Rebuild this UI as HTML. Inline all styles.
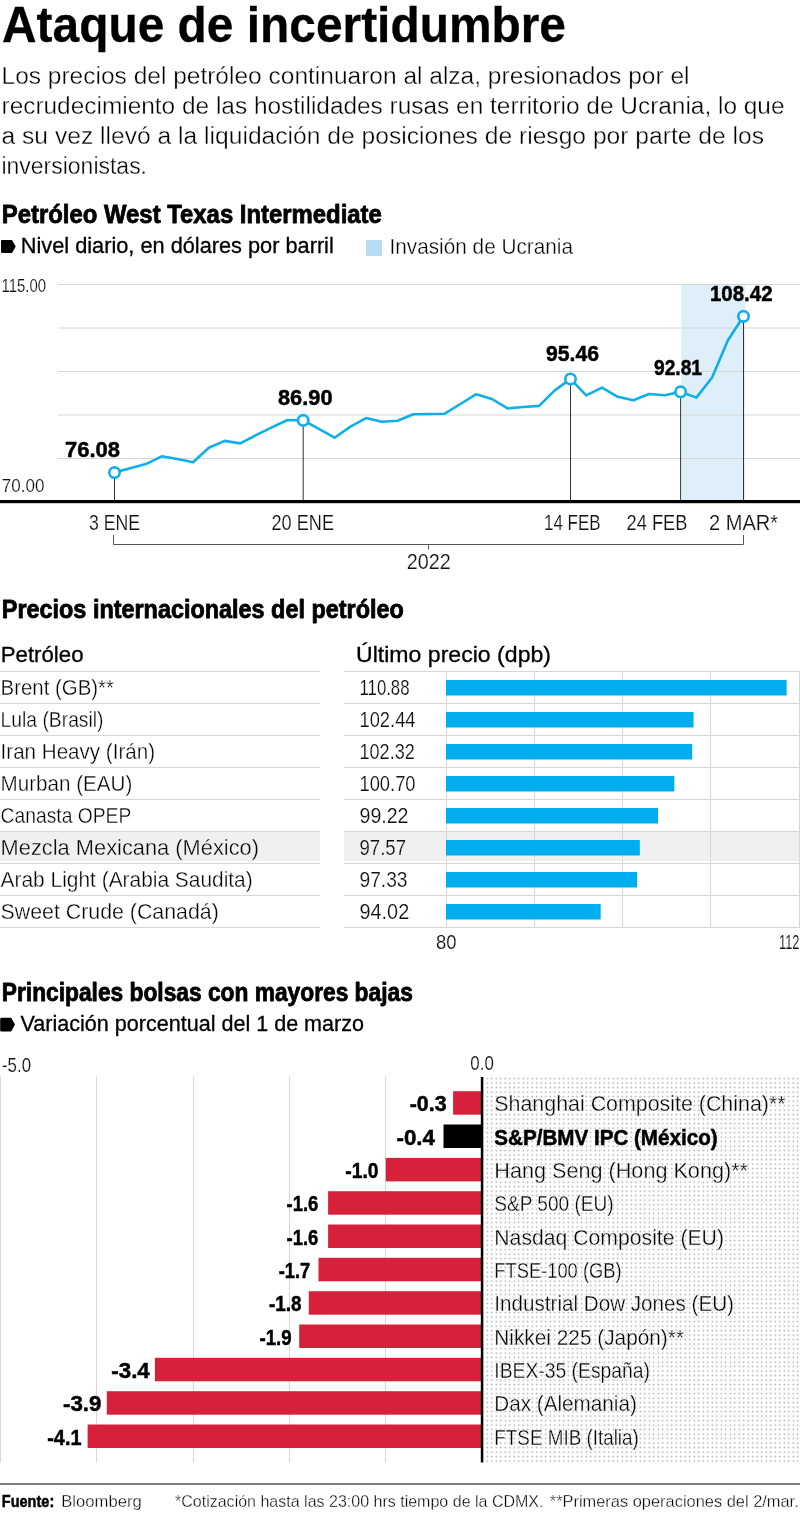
<!DOCTYPE html>
<html lang="es"><head><meta charset="utf-8"><title>Ataque de incertidumbre</title>
<style>
html,body{margin:0;padding:0;background:#fff}
body{width:800px;height:1513px;overflow:hidden}
svg{display:block;font-family:"Liberation Sans", sans-serif;}
text{white-space:pre}
</style></head><body>
<svg width="800" height="1513" viewBox="0 0 800 1513" role="img" aria-label="Ataque de incertidumbre">
<text x="2" y="42" font-size="49.5" font-weight="700" textLength="564" lengthAdjust="spacingAndGlyphs" stroke="#000" stroke-width="0.3" fill="#000">Ataque de incertidumbre</text>
<text x="1.5" y="84" font-size="23.5" textLength="688.0" lengthAdjust="spacingAndGlyphs" stroke="#fff" stroke-width="0.35" fill="#000">Los precios del petróleo continuaron al alza, presionados por el</text>
<text x="1.5" y="114" font-size="23.5" textLength="783.0" lengthAdjust="spacingAndGlyphs" stroke="#fff" stroke-width="0.35" fill="#000">recrudecimiento de las hostilidades rusas en territorio de Ucrania, lo que</text>
<text x="1.5" y="144" font-size="23.5" textLength="762.5" lengthAdjust="spacingAndGlyphs" stroke="#fff" stroke-width="0.35" fill="#000">a su vez llevó a la liquidación de posiciones de riesgo por parte de los</text>
<text x="1.5" y="174" font-size="23.5" textLength="145.5" lengthAdjust="spacingAndGlyphs" stroke="#fff" stroke-width="0.35" fill="#000">inversionistas.</text>
<text x="1.8" y="222.6" font-size="25" font-weight="700" textLength="380" lengthAdjust="spacingAndGlyphs" stroke="#000" stroke-width="0.8" stroke-linejoin="round" fill="#000">Petróleo West Texas Intermediate</text>
<path d="M2.2,240 H12 L15.75,246.5 L12,253 H2.2 Q1,253 1,251.8 V241.2 Q1,240 2.2,240 Z" fill="#000"/>
<text x="20.8" y="253" font-size="21.5" textLength="313" lengthAdjust="spacingAndGlyphs" stroke="#000" stroke-width="0.3" fill="#000">Nivel diario, en dólares por barril</text>
<rect x="366" y="240" width="16" height="16" fill="#b5dcf5"/>
<text x="389.5" y="254.2" font-size="21.5" textLength="183.5" lengthAdjust="spacingAndGlyphs" stroke="#fff" stroke-width="0.35" fill="#000">Invasión de Ucrania</text>
<rect x="681.3" y="284" width="63.8" height="217" fill="#dfeffa"/>
<line x1="58" y1="284.5" x2="800" y2="284.5" stroke="#d6d6d6" stroke-width="1"/>
<line x1="58" y1="328" x2="800" y2="328" stroke="#d6d6d6" stroke-width="1"/>
<line x1="58" y1="371.5" x2="800" y2="371.5" stroke="#d6d6d6" stroke-width="1"/>
<line x1="58" y1="415" x2="800" y2="415" stroke="#d6d6d6" stroke-width="1"/>
<line x1="58" y1="458.5" x2="800" y2="458.5" stroke="#d6d6d6" stroke-width="1"/>
<line x1="114.5" y1="472.61333333333334" x2="114.5" y2="501" stroke="#333" stroke-width="1"/>
<line x1="303.2" y1="420.3166666666666" x2="303.2" y2="501" stroke="#333" stroke-width="1"/>
<line x1="570.525" y1="378.9433333333334" x2="570.525" y2="501" stroke="#333" stroke-width="1"/>
<line x1="680.6" y1="391.75166666666667" x2="680.6" y2="501" stroke="#333" stroke-width="1"/>
<line x1="743.5" y1="316.30333333333334" x2="743.5" y2="501" stroke="#333" stroke-width="1"/>
<rect x="0" y="500" width="800" height="3.2" fill="#000"/>
<polyline points="114.5,472.6 130.2,468.2 145.9,464.1 161.7,456.3 177.4,459.0 193.1,462.2 208.8,447.8 224.6,440.9 240.3,443.4 256.0,435.2 271.8,427.4 287.5,420.0 303.2,420.3 318.9,428.8 334.6,437.7 350.4,426.6 366.1,418.1 381.8,421.7 397.6,420.7 413.3,414.3 429.0,414.0 444.7,413.7 460.4,404.0 476.2,394.2 491.9,399.0 507.6,408.4 523.4,407.0 539.1,405.9 554.8,390.4 570.5,378.9 586.2,395.3 602.0,387.6 617.7,396.8 633.4,400.2 649.1,394.0 664.9,395.2 680.6,391.8 696.3,397.6 712.0,377.7 727.8,340.5 743.5,316.3" fill="none" stroke="#10aeea" stroke-width="2.6" stroke-linejoin="round" stroke-linecap="round"/>
<circle cx="114.5" cy="472.6" r="5.2" fill="#fff" stroke="#10aeea" stroke-width="2.6"/>
<text x="65" y="456.6" font-size="22.5" font-weight="700" textLength="55" lengthAdjust="spacingAndGlyphs" stroke="#000" stroke-width="0.5" fill="#000">76.08</text>
<text x="89" y="529.5" font-size="22.5" textLength="51" lengthAdjust="spacingAndGlyphs" stroke="#fff" stroke-width="0.18" fill="#111">3 ENE</text>
<circle cx="303.2" cy="420.3" r="5.2" fill="#fff" stroke="#10aeea" stroke-width="2.6"/>
<text x="278" y="404.6" font-size="22.5" font-weight="700" textLength="54.5" lengthAdjust="spacingAndGlyphs" stroke="#000" stroke-width="0.5" fill="#000">86.90</text>
<text x="271.5" y="529.5" font-size="22.5" textLength="62.5" lengthAdjust="spacingAndGlyphs" stroke="#fff" stroke-width="0.18" fill="#111">20 ENE</text>
<circle cx="570.5" cy="378.9" r="5.2" fill="#fff" stroke="#10aeea" stroke-width="2.6"/>
<text x="546" y="361.1" font-size="22.5" font-weight="700" textLength="53" lengthAdjust="spacingAndGlyphs" stroke="#000" stroke-width="0.5" fill="#000">95.46</text>
<text x="544" y="529.5" font-size="22.5" textLength="56.5" lengthAdjust="spacingAndGlyphs" stroke="#fff" stroke-width="0.18" fill="#111">14 FEB</text>
<circle cx="680.6" cy="391.8" r="5.2" fill="#fff" stroke="#10aeea" stroke-width="2.6"/>
<text x="654" y="374.6" font-size="22.5" font-weight="700" textLength="48" lengthAdjust="spacingAndGlyphs" stroke="#000" stroke-width="0.5" fill="#000">92.81</text>
<text x="626.5" y="529.5" font-size="22.5" textLength="61.0" lengthAdjust="spacingAndGlyphs" stroke="#fff" stroke-width="0.18" fill="#111">24 FEB</text>
<circle cx="743.5" cy="316.3" r="5.2" fill="#fff" stroke="#10aeea" stroke-width="2.6"/>
<text x="710" y="301.1" font-size="22.5" font-weight="700" textLength="62.5" lengthAdjust="spacingAndGlyphs" stroke="#000" stroke-width="0.5" fill="#000">108.42</text>
<text x="709" y="529.5" font-size="22.5" textLength="69" lengthAdjust="spacingAndGlyphs" stroke="#fff" stroke-width="0.18" fill="#111">2 MAR*</text>
<text x="1.5" y="292" font-size="19" textLength="44.5" lengthAdjust="spacingAndGlyphs" stroke="#fff" stroke-width="0.18" fill="#111">115.00</text>
<text x="1.8" y="492.4" font-size="19" textLength="42.6" lengthAdjust="spacingAndGlyphs" stroke="#fff" stroke-width="0.18" fill="#111">70.00</text>
<path d="M113.5,535 V544.5 H743.5 V535 M428.5,544.5 V549.5" fill="none" stroke="#555" stroke-width="1"/>
<text x="406.8" y="569.3" font-size="22.2" textLength="44" lengthAdjust="spacingAndGlyphs" stroke="#fff" stroke-width="0.18" fill="#111">2022</text>
<text x="1.8" y="617.6" font-size="25" font-weight="700" textLength="402" lengthAdjust="spacingAndGlyphs" stroke="#000" stroke-width="0.8" stroke-linejoin="round" fill="#000">Precios internacionales del petróleo</text>
<text x="0.8" y="662.3" font-size="22" textLength="82.7" lengthAdjust="spacingAndGlyphs" stroke="#000" stroke-width="0.3" fill="#000">Petróleo</text>
<text x="356" y="662.3" font-size="22" textLength="195" lengthAdjust="spacingAndGlyphs" stroke="#000" stroke-width="0.3" fill="#000">Último precio (dpb)</text>
<rect x="0" y="832" width="320" height="29" fill="#f0f0f0"/>
<rect x="344" y="832" width="456" height="29" fill="#f0f0f0"/>
<line x1="446.5" y1="671" x2="446.5" y2="927" stroke="#d6d6d6" stroke-width="1"/>
<line x1="534.5" y1="671" x2="534.5" y2="927" stroke="#d6d6d6" stroke-width="1"/>
<line x1="622.5" y1="671" x2="622.5" y2="927" stroke="#d6d6d6" stroke-width="1"/>
<line x1="710.5" y1="671" x2="710.5" y2="927" stroke="#d6d6d6" stroke-width="1"/>
<line x1="799.5" y1="671" x2="799.5" y2="927" stroke="#d6d6d6" stroke-width="1"/>
<line x1="0" y1="671.5" x2="320" y2="671.5" stroke="#d6d6d6" stroke-width="1"/>
<line x1="344" y1="671.5" x2="800" y2="671.5" stroke="#d6d6d6" stroke-width="1"/>
<line x1="0" y1="703.5" x2="320" y2="703.5" stroke="#d6d6d6" stroke-width="1"/>
<line x1="344" y1="703.5" x2="800" y2="703.5" stroke="#d6d6d6" stroke-width="1"/>
<line x1="0" y1="735.5" x2="320" y2="735.5" stroke="#d6d6d6" stroke-width="1"/>
<line x1="344" y1="735.5" x2="800" y2="735.5" stroke="#d6d6d6" stroke-width="1"/>
<line x1="0" y1="767.5" x2="320" y2="767.5" stroke="#d6d6d6" stroke-width="1"/>
<line x1="344" y1="767.5" x2="800" y2="767.5" stroke="#d6d6d6" stroke-width="1"/>
<line x1="0" y1="799.5" x2="320" y2="799.5" stroke="#d6d6d6" stroke-width="1"/>
<line x1="344" y1="799.5" x2="800" y2="799.5" stroke="#d6d6d6" stroke-width="1"/>
<line x1="0" y1="831.5" x2="320" y2="831.5" stroke="#d6d6d6" stroke-width="1"/>
<line x1="344" y1="831.5" x2="800" y2="831.5" stroke="#d6d6d6" stroke-width="1"/>
<line x1="0" y1="863.5" x2="320" y2="863.5" stroke="#d6d6d6" stroke-width="1"/>
<line x1="344" y1="863.5" x2="800" y2="863.5" stroke="#d6d6d6" stroke-width="1"/>
<line x1="0" y1="895.5" x2="320" y2="895.5" stroke="#d6d6d6" stroke-width="1"/>
<line x1="344" y1="895.5" x2="800" y2="895.5" stroke="#d6d6d6" stroke-width="1"/>
<line x1="0" y1="927.5" x2="320" y2="927.5" stroke="#d6d6d6" stroke-width="1"/>
<line x1="344" y1="927.5" x2="800" y2="927.5" stroke="#d6d6d6" stroke-width="1"/>
<text x="0.6" y="694.5" font-size="22" textLength="113.4" lengthAdjust="spacingAndGlyphs" stroke="#fff" stroke-width="0.35" fill="#000">Brent (GB)**</text>
<text x="359.5" y="695.3" font-size="22" textLength="50" lengthAdjust="spacingAndGlyphs" stroke="#fff" stroke-width="0.18" fill="#111">110.88</text>
<rect x="446" y="680" width="340.6449999999999" height="15.5" fill="#00adef"/>
<text x="0.6" y="726.5" font-size="22" textLength="102.9" lengthAdjust="spacingAndGlyphs" stroke="#fff" stroke-width="0.35" fill="#000">Lula (Brasil)</text>
<text x="359.5" y="727.3" font-size="22" textLength="56" lengthAdjust="spacingAndGlyphs" stroke="#fff" stroke-width="0.18" fill="#111">102.44</text>
<rect x="446" y="712" width="247.54124999999996" height="15.5" fill="#00adef"/>
<text x="0.6" y="758.5" font-size="22" textLength="154.4" lengthAdjust="spacingAndGlyphs" stroke="#fff" stroke-width="0.35" fill="#000">Iran Heavy (Irán)</text>
<text x="359.5" y="759.3" font-size="22" textLength="55.3" lengthAdjust="spacingAndGlyphs" stroke="#fff" stroke-width="0.18" fill="#111">102.32</text>
<rect x="446" y="744" width="246.21749999999992" height="15.5" fill="#00adef"/>
<text x="0.6" y="790.5" font-size="22" textLength="131.70000000000002" lengthAdjust="spacingAndGlyphs" stroke="#fff" stroke-width="0.35" fill="#000">Murban (EAU)</text>
<text x="359.5" y="791.3" font-size="22" textLength="56" lengthAdjust="spacingAndGlyphs" stroke="#fff" stroke-width="0.18" fill="#111">100.70</text>
<rect x="446" y="776" width="228.34687500000004" height="15.5" fill="#00adef"/>
<text x="0.6" y="822.5" font-size="22" textLength="130.70000000000002" lengthAdjust="spacingAndGlyphs" stroke="#fff" stroke-width="0.35" fill="#000">Canasta OPEP</text>
<text x="359.5" y="823.3" font-size="22" textLength="49" lengthAdjust="spacingAndGlyphs" stroke="#fff" stroke-width="0.18" fill="#111">99.22</text>
<rect x="446" y="808" width="212.020625" height="15.5" fill="#00adef"/>
<text x="0.6" y="854.5" font-size="22" textLength="258.4" lengthAdjust="spacingAndGlyphs" stroke="#f0f0f0" stroke-width="0.35" fill="#000">Mezcla Mexicana (México)</text>
<text x="359.5" y="855.3" font-size="22" textLength="46.5" lengthAdjust="spacingAndGlyphs" stroke="#f0f0f0" stroke-width="0.18" fill="#111">97.57</text>
<rect x="446" y="840" width="193.81906249999992" height="15.5" fill="#00adef"/>
<text x="0.6" y="886.5" font-size="22" textLength="252.1" lengthAdjust="spacingAndGlyphs" stroke="#fff" stroke-width="0.35" fill="#000">Arab Light (Arabia Saudita)</text>
<text x="359.5" y="887.3" font-size="22" textLength="48" lengthAdjust="spacingAndGlyphs" stroke="#fff" stroke-width="0.18" fill="#111">97.33</text>
<rect x="446" y="872" width="191.1715625" height="15.5" fill="#00adef"/>
<text x="0.6" y="918.5" font-size="22" textLength="218.15" lengthAdjust="spacingAndGlyphs" stroke="#fff" stroke-width="0.35" fill="#000">Sweet Crude (Canadá)</text>
<text x="359.5" y="919.3" font-size="22" textLength="49.7" lengthAdjust="spacingAndGlyphs" stroke="#fff" stroke-width="0.18" fill="#111">94.02</text>
<rect x="446" y="904" width="154.65812499999996" height="15.5" fill="#00adef"/>
<text x="436" y="949" font-size="21" textLength="20.5" lengthAdjust="spacingAndGlyphs" stroke="#fff" stroke-width="0.18" fill="#111">80</text>
<text x="779" y="949" font-size="21" textLength="20.5" lengthAdjust="spacingAndGlyphs" stroke="#fff" stroke-width="0.18" fill="#111">112</text>
<text x="1.8" y="1001" font-size="25" font-weight="700" textLength="411" lengthAdjust="spacingAndGlyphs" stroke="#000" stroke-width="0.8" stroke-linejoin="round" fill="#000">Principales bolsas con mayores bajas</text>
<path d="M1.4,1017.8 H11.2 L14.95,1024.6 L11.2,1031.3999999999999 H1.4 Q0.2,1031.3999999999999 0.2,1030.1999999999998 V1019.0 Q0.2,1017.8 1.4,1017.8 Z" fill="#000"/>
<text x="20.5" y="1031.4" font-size="21.5" textLength="343.5" lengthAdjust="spacingAndGlyphs" stroke="#000" stroke-width="0.3" fill="#000">Variación porcentual del 1 de marzo</text>
<text x="2" y="1071.5" font-size="19.3" textLength="29" lengthAdjust="spacingAndGlyphs" stroke="#fff" stroke-width="0.18" fill="#111">-5.0</text>
<text x="470.3" y="1070.2" font-size="19.3" textLength="23.5" lengthAdjust="spacingAndGlyphs" stroke="#fff" stroke-width="0.18" fill="#111">0.0</text>
<defs><pattern id="dots" x="485" y="1076.35" width="4.5" height="4.5" patternUnits="userSpaceOnUse"><circle cx="2.25" cy="2.25" r="0.8" fill="#a8a8a8"/></pattern></defs>
<rect x="483" y="1077" width="317" height="385.5" fill="url(#dots)"/>
<line x1="0.5" y1="1076.5" x2="0.5" y2="1462.5" stroke="#d6d6d6" stroke-width="1"/>
<line x1="96.5" y1="1076.5" x2="96.5" y2="1462.5" stroke="#d6d6d6" stroke-width="1"/>
<line x1="193.5" y1="1076.5" x2="193.5" y2="1462.5" stroke="#d6d6d6" stroke-width="1"/>
<line x1="289.5" y1="1076.5" x2="289.5" y2="1462.5" stroke="#d6d6d6" stroke-width="1"/>
<line x1="385.5" y1="1076.5" x2="385.5" y2="1462.5" stroke="#d6d6d6" stroke-width="1"/>
<rect x="453.1" y="1091.2" width="28.9" height="23.5" fill="#d7213a"/>
<text x="409.75" y="1111.4" font-size="22.5" font-weight="700" textLength="36.8" lengthAdjust="spacingAndGlyphs" stroke="#000" stroke-width="0.5" fill="#000">-0.3</text>
<text x="494.3" y="1111.4" font-size="22" textLength="291.3" lengthAdjust="spacingAndGlyphs" stroke="#f8f8f8" stroke-width="0.35" fill="#000">Shanghai Composite (China)**</text>
<rect x="443.5" y="1124.5" width="38.5" height="23.5" fill="#000"/>
<text x="396.5" y="1144.7" font-size="22.5" font-weight="700" textLength="38.5" lengthAdjust="spacingAndGlyphs" stroke="#000" stroke-width="0.5" fill="#000">-0.4</text>
<text x="494.3" y="1144.7" font-size="22" font-weight="700" textLength="223.3" lengthAdjust="spacingAndGlyphs" stroke="#000" stroke-width="0.5" fill="#000">S&amp;P/BMV IPC (México)</text>
<rect x="385.8" y="1157.9" width="96.2" height="23.5" fill="#d7213a"/>
<text x="345.25" y="1178.1" font-size="22.5" font-weight="700" textLength="33.2" lengthAdjust="spacingAndGlyphs" stroke="#000" stroke-width="0.5" fill="#000">-1.0</text>
<text x="494.3" y="1178.1" font-size="22" textLength="253.70000000000002" lengthAdjust="spacingAndGlyphs" stroke="#f8f8f8" stroke-width="0.35" fill="#000">Hang Seng (Hong Kong)**</text>
<rect x="328.1" y="1191.2" width="153.9" height="23.5" fill="#d7213a"/>
<text x="286.5" y="1211.4" font-size="22.5" font-weight="700" textLength="31.8" lengthAdjust="spacingAndGlyphs" stroke="#000" stroke-width="0.5" fill="#000">-1.6</text>
<text x="494.3" y="1211.4" font-size="22" textLength="119.3" lengthAdjust="spacingAndGlyphs" stroke="#f8f8f8" stroke-width="0.35" fill="#000">S&amp;P 500 (EU)</text>
<rect x="328.1" y="1224.5" width="153.9" height="23.5" fill="#d7213a"/>
<text x="286.5" y="1244.7" font-size="22.5" font-weight="700" textLength="31.8" lengthAdjust="spacingAndGlyphs" stroke="#000" stroke-width="0.5" fill="#000">-1.6</text>
<text x="494.3" y="1244.7" font-size="22" textLength="229.70000000000002" lengthAdjust="spacingAndGlyphs" stroke="#f8f8f8" stroke-width="0.35" fill="#000">Nasdaq Composite (EU)</text>
<rect x="318.5" y="1257.8" width="163.5" height="23.5" fill="#d7213a"/>
<text x="278.75" y="1278.0" font-size="22.5" font-weight="700" textLength="31.5" lengthAdjust="spacingAndGlyphs" stroke="#000" stroke-width="0.5" fill="#000">-1.7</text>
<text x="494.3" y="1278.0" font-size="22" textLength="127.3" lengthAdjust="spacingAndGlyphs" stroke="#f8f8f8" stroke-width="0.35" fill="#000">FTSE-100 (GB)</text>
<rect x="308.8" y="1291.2" width="173.2" height="23.5" fill="#d7213a"/>
<text x="269" y="1311.4" font-size="22.5" font-weight="700" textLength="32.5" lengthAdjust="spacingAndGlyphs" stroke="#000" stroke-width="0.5" fill="#000">-1.8</text>
<text x="494.3" y="1311.4" font-size="22" textLength="239.70000000000002" lengthAdjust="spacingAndGlyphs" stroke="#f8f8f8" stroke-width="0.35" fill="#000">Industrial Dow Jones (EU)</text>
<rect x="299.2" y="1324.5" width="182.8" height="23.5" fill="#d7213a"/>
<text x="259.5" y="1344.7" font-size="22.5" font-weight="700" textLength="32.2" lengthAdjust="spacingAndGlyphs" stroke="#000" stroke-width="0.5" fill="#000">-1.9</text>
<text x="494.3" y="1344.7" font-size="22" textLength="189.70000000000002" lengthAdjust="spacingAndGlyphs" stroke="#f8f8f8" stroke-width="0.35" fill="#000">Nikkei 225 (Japón)**</text>
<rect x="154.9" y="1357.8" width="327.1" height="23.5" fill="#d7213a"/>
<text x="111.3" y="1378.0" font-size="22.5" font-weight="700" textLength="38.5" lengthAdjust="spacingAndGlyphs" stroke="#000" stroke-width="0.5" fill="#000">-3.4</text>
<text x="494.3" y="1378.0" font-size="22" textLength="155.70000000000002" lengthAdjust="spacingAndGlyphs" stroke="#f8f8f8" stroke-width="0.35" fill="#000">IBEX-35 (España)</text>
<rect x="106.8" y="1391.2" width="375.2" height="23.5" fill="#d7213a"/>
<text x="63" y="1411.4" font-size="22.5" font-weight="700" textLength="38.5" lengthAdjust="spacingAndGlyphs" stroke="#000" stroke-width="0.5" fill="#000">-3.9</text>
<text x="494.3" y="1411.4" font-size="22" textLength="142.5" lengthAdjust="spacingAndGlyphs" stroke="#f8f8f8" stroke-width="0.35" fill="#000">Dax (Alemania)</text>
<rect x="87.6" y="1424.5" width="394.4" height="23.5" fill="#d7213a"/>
<text x="47.25" y="1444.7" font-size="22.5" font-weight="700" textLength="34.2" lengthAdjust="spacingAndGlyphs" stroke="#000" stroke-width="0.5" fill="#000">-4.1</text>
<text x="494.3" y="1444.7" font-size="22" textLength="144.5" lengthAdjust="spacingAndGlyphs" stroke="#f8f8f8" stroke-width="0.35" fill="#000">FTSE MIB (Italia)</text>
<rect x="480.8" y="1077" width="2.5" height="385.5" fill="#000"/>
<line x1="0" y1="1484" x2="800" y2="1484" stroke="#555" stroke-width="1.3"/>
<text x="1.75" y="1507.3" font-size="17.3" font-weight="700" textLength="52.5" lengthAdjust="spacingAndGlyphs" stroke="#000" stroke-width="0.5" fill="#000">Fuente:</text>
<text x="61.25" y="1507.3" font-size="17.3" textLength="80.5" lengthAdjust="spacingAndGlyphs" stroke="#fff" stroke-width="0.35" fill="#000">Bloomberg</text>
<text x="175" y="1507.3" font-size="17.3" textLength="368.5" lengthAdjust="spacingAndGlyphs" stroke="#fff" stroke-width="0.35" fill="#000">*Cotización hasta las 23:00 hrs tiempo de la CDMX.</text>
<text x="549.75" y="1507.3" font-size="17.3" textLength="249" lengthAdjust="spacingAndGlyphs" stroke="#fff" stroke-width="0.35" fill="#000">**Primeras operaciones del 2/mar.</text>
</svg>
</body></html>
